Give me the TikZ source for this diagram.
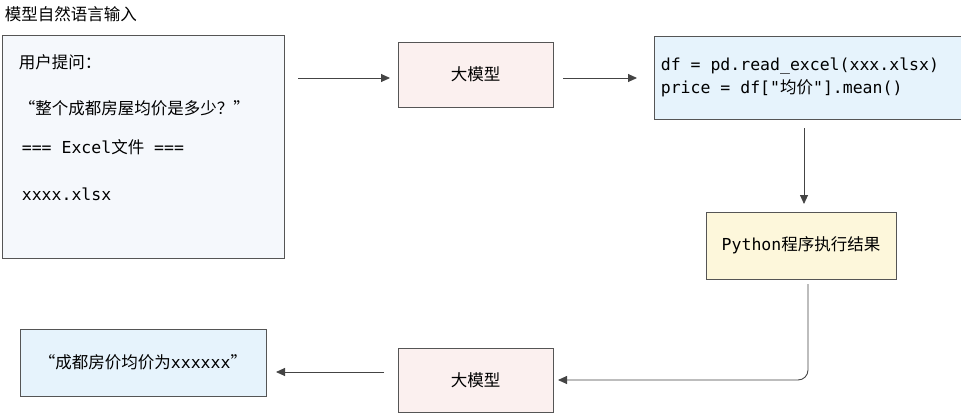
\documentclass[tikz,border=0pt]{standalone}
\usepackage{fontspec}
\setmainfont{Noto Sans CJK SC}[Scale=1.1]
\newfontfamily\codef{DejaVu Sans Mono}[Scale=1.1]
\newcommand{\zh}[1]{{\normalfont #1}}
\usetikzlibrary{arrows.meta}
\definecolor{inbg}{HTML}{F5F8FC}
\definecolor{llm}{HTML}{FBF0EF}
\definecolor{code}{HTML}{E6F3FC}
\definecolor{res}{HTML}{FDF7DB}
\definecolor{ln}{HTML}{555555}
\begin{document}
\begin{tikzpicture}[x=1pt,y=-1pt,
  box/.style={draw=ln,line width=0.8pt,inner sep=0pt},
  lbl/.style={font=\fontsize{15}{18}\selectfont},
  arr/.style={draw=ln!80!black,line width=0.9pt,-{Triangle[length=9pt,width=8pt]}}]
\useasboundingbox (0,0) rectangle (961,415);
\node[lbl,anchor=west] (title) at (1,14) {模型自然语言输入};
\node[box,fill=inbg,minimum width=282pt,minimum height=223pt] (in) at (143,146.5) {};
\node[lbl,anchor=west] (t1) at (15,62) {用户提问：};
\node[lbl,anchor=west] (t2) at (15,108) {“整个成都房屋均价是多少？”};
\node[lbl,anchor=west] (t3) at (18,147) {\codef=== Excel\zh{文件} ===};
\node[lbl,anchor=west] (t4) at (18,194) {\codef xxxx.xlsx};
\node[box,fill=llm,minimum width=155pt,minimum height=65pt,lbl] (m1) at (475.5,74.5) {大模型};
\node[box,fill=code,minimum width=308pt,minimum height=83pt] (c) at (808,77.5) {};
\node[lbl,anchor=west,align=left] (ct) at (657,77) {\codef df = pd.read\_excel(xxx.xlsx)\\[5pt]\codef price = df["\zh{均价}"].mean()};
\node[box,fill=res,minimum width=190pt,minimum height=67pt,lbl] (py) at (801,245.5) {\codef Python\zh{程序执行结果}};
\node[box,fill=llm,minimum width=155pt,minimum height=64pt,lbl] (m2) at (475.5,380) {大模型};
\node[box,fill=code,minimum width=246pt,minimum height=67pt,lbl] (r) at (143,362.5) {“成都房价均价为{\codef xxxxxx}”};
\coordinate (a1s) at (298,78); \coordinate (a1e) at (390,78);
\draw[arr] (a1s) -- (a1e);
\coordinate (a2s) at (563,78); \coordinate (a2e) at (637,78);
\draw[arr] (a2s) -- (a2e);
\coordinate (a3s) at (804,128); \coordinate (a3e) at (804,204);
\draw[arr] (a3s) -- (a3e);
\coordinate (a4s) at (808,284); \coordinate (a4c) at (808,380); \coordinate (a4e) at (558,380);
\draw[arr,rounded corners=10pt] (a4s) -- (a4c) -- (a4e);
\coordinate (a5s) at (384,372); \coordinate (a5e) at (276,372);
\draw[arr] (a5s) -- (a5e);
\end{tikzpicture}
\end{document}
